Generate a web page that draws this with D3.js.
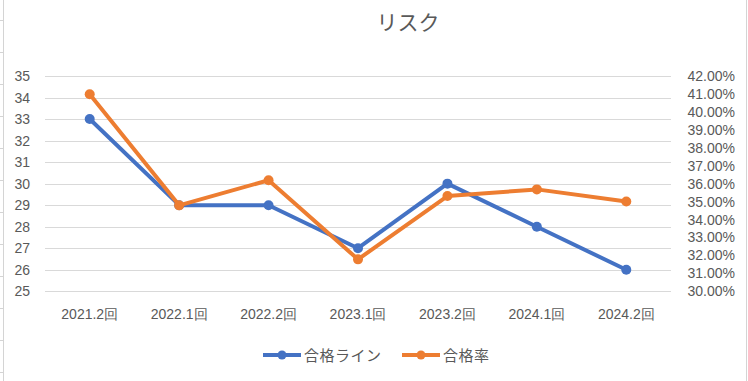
<!DOCTYPE html>
<html><head><meta charset="utf-8">
<script src="https://cdn.jsdelivr.net/npm/d3@7"></script>
<style>
html,body{margin:0;padding:0;background:#fff;}
svg{display:block;font-family:"Noto Sans","Noto Sans CJK JP",sans-serif;}
</style></head>
<body><svg id="c" width="748" height="381"></svg>
<script>
const categories = ["2021.2回","2022.1回","2022.2回","2023.1回","2023.2回","2024.1回","2024.2回"];
const passLine = [33,29,29,27,30,28,26];
const passRate = [0.4098,0.3479,0.3619,0.3178,0.3531,0.3568,0.3501];
const leftTicks = [25,26,27,28,29,30,31,32,33,34,35];
const rightTicks = [0.30,0.31,0.32,0.33,0.34,0.35,0.36,0.37,0.38,0.39,0.40,0.41,0.42];
const seriesNames = ["合格ライン","合格率"];
const titleText = "リスク";

const svg = d3.select("#c");
const W = 748, H = 381;
const m = {left:45, right:671, top:76, bottom:291.3};
const textColor = "#595959", gridColor = "#d9d9d9";
const blue = "#4472C4", orange = "#ED7D31";

// spreadsheet frame
svg.append("line").attr("x1",3.5).attr("x2",3.5).attr("y1",0).attr("y2",H).attr("stroke","#d4d4d4");
svg.append("line").attr("x1",746.5).attr("x2",746.5).attr("y1",0).attr("y2",H).attr("stroke","#d4d4d4");
d3.range(20.5, H, 32).forEach(y=>{
  svg.append("line").attr("x1",0).attr("x2",3).attr("y1",y).attr("y2",y).attr("stroke","#d4d4d4");
});

const x = d3.scaleBand().domain(categories).range([m.left, m.right]);
const yL = d3.scaleLinear().domain([25,35]).range([m.bottom, m.top]);
const yR = d3.scaleLinear().domain([0.30,0.42]).range([m.bottom, m.top]);

// gridlines
svg.append("g").selectAll("line").data(leftTicks).join("line")
  .attr("x1",m.left).attr("x2",m.right)
  .attr("y1",d=>Math.round(yL(d))+0.5).attr("y2",d=>Math.round(yL(d))+0.5)
  .attr("stroke",gridColor).attr("stroke-width",1);

// left axis
const axL = svg.append("g").attr("transform",`translate(${m.left},0)`)
  .call(d3.axisLeft(yL).tickValues(leftTicks).tickSize(0).tickPadding(15).tickFormat(d3.format("d")));
axL.select(".domain").remove();
axL.selectAll("text").attr("fill",textColor).style("font-size","14px");

// right axis
const axR = svg.append("g").attr("transform",`translate(735,0)`)
  .call(d3.axisLeft(yR).tickValues(rightTicks).tickSize(0).tickPadding(0).tickFormat(d3.format(".2%")));
axR.select(".domain").remove();
axR.selectAll("text").attr("fill",textColor).style("font-size","14px");

// bottom axis
const axB = svg.append("g").attr("transform",`translate(0,${m.bottom})`)
  .call(d3.axisBottom(x).tickSize(0).tickPadding(18));
axB.select(".domain").remove();
axB.selectAll("text").attr("fill",textColor).style("font-size","14px");

// lines
const cx = d => x(d) + x.bandwidth()/2;
const lineL = d3.line().x((d,i)=>cx(categories[i])).y(d=>yL(d));
const lineR = d3.line().x((d,i)=>cx(categories[i])).y(d=>yR(d));

svg.append("path").datum(passLine).attr("d",lineL).attr("fill","none")
  .attr("stroke",blue).attr("stroke-width",4).attr("stroke-linejoin","round");
svg.append("g").selectAll("circle").data(passLine).join("circle")
  .attr("cx",(d,i)=>cx(categories[i])).attr("cy",d=>yL(d)).attr("r",5).attr("fill",blue);

svg.append("path").datum(passRate).attr("d",lineR).attr("fill","none")
  .attr("stroke",orange).attr("stroke-width",4).attr("stroke-linejoin","round");
svg.append("g").selectAll("circle").data(passRate).join("circle")
  .attr("cx",(d,i)=>cx(categories[i])).attr("cy",d=>yR(d)).attr("r",5).attr("fill",orange);

// title
svg.append("text").attr("x",408).attr("y",22).attr("text-anchor","middle")
  .attr("dominant-baseline","central")
  .attr("fill",textColor).style("font-size","21px").text(titleText);

// legend
const legend = [{name:seriesNames[0],color:blue,x0:263},{name:seriesNames[1],color:orange,x0:402}];
const lg = svg.append("g").selectAll("g").data(legend).join("g")
  .attr("transform",d=>`translate(${d.x0},355)`);
lg.append("line").attr("x1",0).attr("x2",38).attr("y1",0).attr("y2",0)
  .attr("stroke",d=>d.color).attr("stroke-width",4);
lg.append("circle").attr("cx",19).attr("cy",0).attr("r",4.5).attr("fill",d=>d.color);
lg.append("text").attr("x",41).attr("y",0).attr("dominant-baseline","central")
  .attr("fill",textColor).style("font-size","15px").style("letter-spacing","0.5px").text(d=>d.name);
</script></body></html>
